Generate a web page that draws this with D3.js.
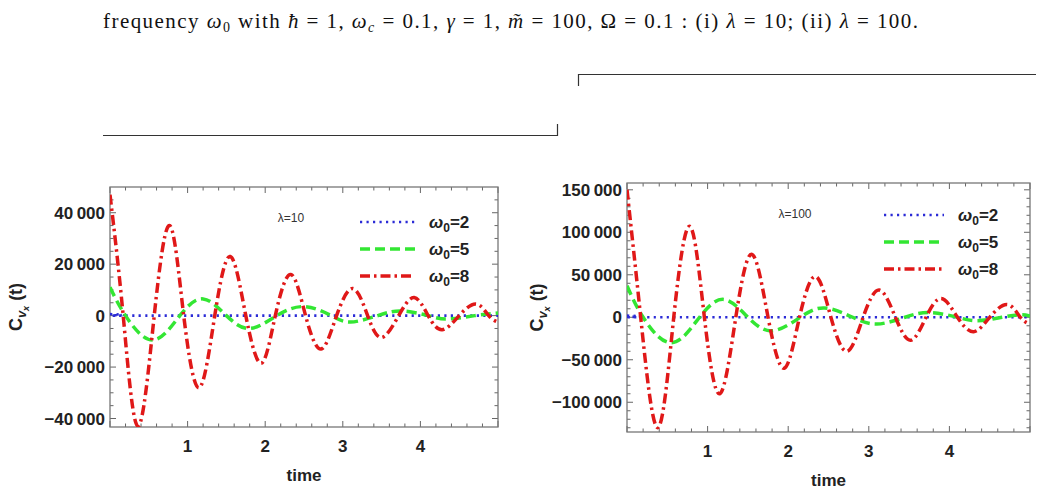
<!DOCTYPE html>
<html><head><meta charset="utf-8">
<script src="https://cdn.jsdelivr.net/npm/d3@7"></script>
<style>body{margin:0;background:#fff}svg{display:block}</style>
</head><body><svg id="s" width="1041" height="493"></svg>
<script>
// ---- data ----
const xTicks = [1,2,3,4];
const yTicksL = [-40000,-20000,0,20000,40000];
const yTicksR = [-100000,-50000,0,50000,100000,150000];
const seriesNames = ["ω0=2","ω0=5","ω0=8"];
const lambdaLabels = ["λ=10","λ=100"];
// left (λ=10): [t, value]
const blueL = [[0,600],[0.1,150],[0.3,0],[5,0]];
const greenL = [[0,11000],[0.2,0],[0.55,-9500],[0.9,0],[1.2,6500],[1.5,0],[1.8,-5000],[2.15,0],[2.5,3500],[2.85,0],[3.1,-2500],[3.45,0],[3.75,1800],[4.1,0],[4.35,-1300],[4.7,0],[5,1000]];
const redL = [[0,47000],[0.17,0],[0.36,-43000],[0.57,0],[0.77,35000],[0.95,0],[1.15,-28000],[1.35,0],[1.55,23000],[1.75,0],[1.95,-18500],[2.13,0],[2.33,16000],[2.52,0],[2.72,-13000],[2.92,0],[3.13,10500],[3.32,0],[3.5,-8500],[3.72,0],[3.92,7000],[4.1,0],[4.28,-5500],[4.5,0],[4.72,4500],[4.88,0],[5,-2500]];
// right (λ=100)
const blueR = [[0,2000],[0.1,500],[0.3,0],[5,0]];
const greenR = [[0,37000],[0.2,0],[0.55,-30000],[0.9,0],[1.2,21000],[1.5,0],[1.8,-16000],[2.15,0],[2.45,11000],[2.8,0],[3.1,-8000],[3.45,0],[3.75,5500],[4.1,0],[4.35,-4000],[4.65,0],[4.88,3000],[5,1500]];
const redR = [[0,150000],[0.17,0],[0.38,-130000],[0.58,0],[0.78,107000],[0.96,0],[1.15,-90000],[1.35,0],[1.55,74000],[1.75,0],[1.95,-60000],[2.14,0],[2.34,48000],[2.53,0],[2.73,-40000],[2.93,0],[3.13,32000],[3.33,0],[3.52,-27000],[3.71,0],[3.9,22000],[4.1,0],[4.3,-17000],[4.5,0],[4.72,15000],[4.88,0],[5,-8000]];

const svg = d3.select("#s");
const styles = [
  {c:"#2b2bd6", dash:"2.2,4.3", w:2.6},
  {c:"#33e633", dash:"10,5", w:3.5},
  {c:"#e01818", dash:"10,4,2.5,4", w:3.5}
];

// caption
const cap = svg.append("text").attr("x",103).attr("y",28).attr("font-family","Liberation Serif").attr("font-size",21).attr("fill","#111")
  .attr("textLength",815).attr("lengthAdjust","spacing");
[["frequency ",""],["ω","i"],["0","s"],[" with ",""],["ħ","i"],[" = 1, ",""],["ω","i"],["c","is"],[" = 0.1, ",""],["γ","i"],[" = 1, ",""],["m̃","i"],[" = 100, Ω = 0.1 : (i) ",""],["λ","i"],[" = 10; (ii) ",""],["λ","i"],[" = 100.",""]].forEach(([t,s],i,arr)=>{
  const ts=cap.append("tspan").text(t);
  if(s.includes("i")) ts.attr("font-style","italic");
  if(s.includes("s")){ts.attr("font-size",14).attr("dy",4);}
  if(i>0 && arr[i-1][1].includes("s")) ts.attr("dy",-4);
});
// decorative lines
svg.append("path").attr("d","M103,135.5H557.5V124").attr("fill","none").attr("stroke","#333").attr("stroke-width",1.2);
svg.append("path").attr("d","M578.5,86V74.5H1036").attr("fill","none").attr("stroke","#333").attr("stroke-width",1.2);

function panel(o){
  const x = d3.scaleLinear().domain([0,5]).range([o.x0,o.x1]);
  const y = d3.scaleLinear().domain(o.yd).range([o.y1,o.y0]);
  const g = svg.append("g");
  const id = "clip"+o.k;
  svg.append("clipPath").attr("id",id).append("rect").attr("x",o.x0).attr("y",o.y0).attr("width",o.x1-o.x0).attr("height",o.y1-o.y0);
  const tk = g.append("g").attr("stroke","#666").attr("stroke-width",1);
  d3.range(0,5.01,0.2).forEach((v,i)=>{
    const L = (i%5===0)?6:3.5;
    tk.append("line").attr("x1",x(v)).attr("x2",x(v)).attr("y1",o.y1).attr("y2",o.y1-L);
    tk.append("line").attr("x1",x(v)).attr("x2",x(v)).attr("y1",o.y0).attr("y2",o.y0+L);
  });
  d3.range(Math.ceil(o.yd[0]/o.minor)*o.minor,o.yd[1],o.minor).forEach(v=>{
    const L = (Math.abs(v%o.major)<1)?6:3.5;
    tk.append("line").attr("y1",y(v)).attr("y2",y(v)).attr("x1",o.x0).attr("x2",o.x0+L);
    tk.append("line").attr("y1",y(v)).attr("y2",y(v)).attr("x1",o.x1).attr("x2",o.x1-L);
  });
  g.append("rect").attr("x",o.x0).attr("y",o.y0).attr("width",o.x1-o.x0).attr("height",o.y1-o.y0).attr("fill","none").attr("stroke","#777").attr("stroke-width",1.3);
  const fnt = "Liberation Sans";
  xTicks.forEach(v=>g.append("text").attr("x",x(v)).attr("y",o.y1+25).attr("text-anchor","middle").attr("font-family",fnt).attr("font-weight","bold").attr("font-size",17).attr("fill","#222").text(v));
  o.yt.forEach(v=>g.append("text").attr("x",o.x0-5).attr("y",y(v)+6).attr("text-anchor","end").attr("font-family",fnt).attr("font-weight","bold").attr("font-size",17).attr("fill","#222").text(d3.format(",")(v).replace(/,/g,"\u2009").replace("-","\u2212")));
  g.append("text").attr("x",(o.x0+o.x1)/2).attr("y",o.y1+54).attr("text-anchor","middle").attr("font-family",fnt).attr("font-weight","bold").attr("font-size",17).attr("fill","#222").text("time");
  const yl = g.append("text").attr("transform",`translate(${o.ylx},${(o.y0+o.y1)/2}) rotate(-90)`).attr("text-anchor","middle").attr("font-family",fnt).attr("font-weight","bold").attr("font-size",18).attr("fill","#222");
  yl.append("tspan").text("C");
  yl.append("tspan").attr("font-size",13).attr("font-style","italic").attr("dy",4).text("v");
  yl.append("tspan").attr("font-size",9).attr("font-style","italic").attr("dy",3).text("x");
  yl.append("tspan").attr("dy",-7).text(" (t)");
  const line = d3.line().x(d=>x(d[0])).y(d=>y(d[1])).curve(d3.curveNatural);
  const lg = g.append("g").attr("clip-path",`url(#${id})`);
  o.data.forEach((d,i)=>lg.append("path").attr("d",line(d)).attr("fill","none").attr("stroke",styles[i].c).attr("stroke-width",styles[i].w).attr("stroke-dasharray",styles[i].dash));
  g.append("text").attr("x",o.lam[0]).attr("y",o.lam[1]).attr("text-anchor","middle").attr("font-family",fnt).attr("font-size",12).attr("fill","#333").text(o.lamT);
  seriesNames.forEach((n,i)=>{
    const yy = o.leg[1]+i*27;
    g.append("line").attr("x1",o.leg[0]).attr("x2",o.leg[0]+o.leg[2]).attr("y1",yy).attr("y2",yy).attr("stroke",styles[i].c).attr("stroke-width",styles[i].w).attr("stroke-dasharray",styles[i].dash);
    const t = g.append("text").attr("x",o.leg[0]+o.leg[2]+14).attr("y",yy+6).attr("font-family",fnt).attr("font-weight","bold").attr("font-size",17).attr("fill","#222");
    t.append("tspan").attr("font-style","italic").text("ω");
    t.append("tspan").attr("font-size",12).attr("dy",4).text("0");
    t.append("tspan").attr("dy",-4).text("=" + n.split("=")[1]);
  });
}
panel({k:"L",x0:110,x1:498,y0:187,y1:427,yd:[-43300,50000],yt:yTicksL,major:20000,minor:5000,ylx:22,data:[blueL,greenL,redL],lam:[291,222],lamT:lambdaLabels[0],leg:[360,222,55]});
panel({k:"R",x0:627,x1:1030,y0:183,y1:432,yd:[-135000,158000],yt:yTicksR,major:50000,minor:10000,ylx:543,data:[blueR,greenR,redR],lam:[795,218],lamT:lambdaLabels[1],leg:[884,215,60]});
</script></body></html>
